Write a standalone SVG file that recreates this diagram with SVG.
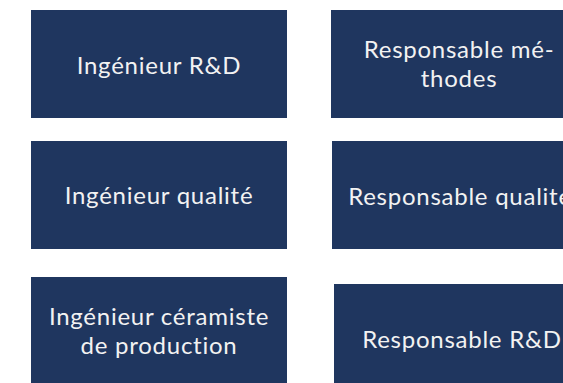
<svg xmlns="http://www.w3.org/2000/svg" width="563" height="383" viewBox="0 0 563 383">
<style>
.box{fill:#1f365f}
.t{fill:#f2f2f2;font-family:Lato,"Liberation Sans",sans-serif;font-size:24px;letter-spacing:0.75px;text-anchor:middle}
</style>
<rect width="563" height="383" fill="#ffffff"/>
<g id="n1"><rect class="box" x="31" y="10" width="256" height="108"/><text class="t" x="159" y="74">Ingénieur R&amp;D</text></g>
<g id="n2"><rect class="box" x="331" y="10" width="256" height="108"/><text class="t" x="459" y="58">Responsable mé-</text><text class="t" x="459" y="87">thodes</text></g>
<g id="n3"><rect class="box" x="31" y="141" width="256" height="108"/><text class="t" x="159" y="204">Ingénieur qualité</text></g>
<g id="n4"><rect class="box" x="332" y="141" width="256" height="108"/><text class="t" x="460" y="205">Responsable qualité</text></g>
<g id="n5"><rect class="box" x="31" y="277" width="256" height="108"/><text class="t" x="159" y="325">Ingénieur céramiste</text><text class="t" x="159" y="354">de production</text></g>
<g id="n6"><rect class="box" x="334" y="284" width="256" height="108"/><text class="t" x="462" y="348">Responsable R&amp;D</text></g>
<g id="connectors"></g>
</svg>
